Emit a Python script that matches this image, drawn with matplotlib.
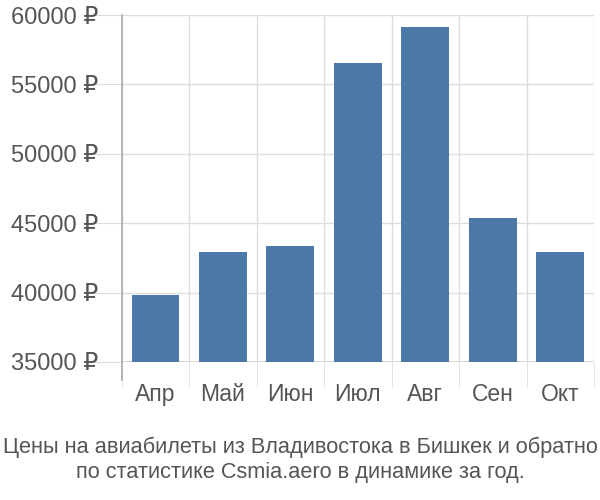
import matplotlib
matplotlib.use("Agg")
import matplotlib.pyplot as plt
import numpy as np

plt.rcParams['font.family'] = ['Liberation Sans', 'DejaVu Sans']

# данные
months = ['Апр', 'Май', 'Июн', 'Июл', 'Авг', 'Сен', 'Окт']
prices = [39830, 42930, 43360, 56540, 59140, 45370, 42930]
y_ticks = [35000, 40000, 45000, 50000, 55000, 60000]
title = 'Цены на авиабилеты из Владивостока в Бишкек и обратно\nпо статистике Csmia.aero в динамике за год.'

fig = plt.figure(figsize=(6, 5), dpi=100)
ax = fig.add_axes([0.203, 0.276, 0.787, 0.694])

x = np.arange(len(months))
ax.bar(x, prices, width=0.71, color='#4c78a8', zorder=3)

ax.set_xlim(-0.5, len(months) - 0.5)
ax.set_ylim(35000, 60000)

ax.set_yticks(y_ticks)
ax.set_yticklabels([f'{v} ₽' for v in y_ticks])
ax.set_xticks(x)
ax.set_xticklabels(months)
ax.set_xticks(np.arange(len(months) + 1) - 0.5, minor=True)

ax.grid(axis='y', which='major', color='#dddddd', linewidth=1, zorder=0)
ax.grid(axis='x', which='minor', color='#dddddd', linewidth=1, zorder=0)
ax.axhline(35000, color='#cccccc', linewidth=1.2, zorder=1)

ax.tick_params(axis='y', which='major', length=22, color='#dddddd', labelsize=17, labelcolor='#555555', pad=-5)
ax.tick_params(axis='x', which='major', length=0, labelsize=16.5, labelcolor='#555555', pad=15)
ax.tick_params(axis='x', which='minor', length=18, color='#dddddd')

for s in ['top', 'right', 'bottom']:
    ax.spines[s].set_visible(False)
ax.spines['left'].set_color('#aaaaaa')
ax.spines['left'].set_linewidth(1.2)
ax.spines['left'].set_bounds(33700, 60000)

fig.text(0.5, 0.08, title, ha='center', va='center', fontsize=15.7, color='#555555', linespacing=1.25)

plt.savefig('out.png', dpi=100)
